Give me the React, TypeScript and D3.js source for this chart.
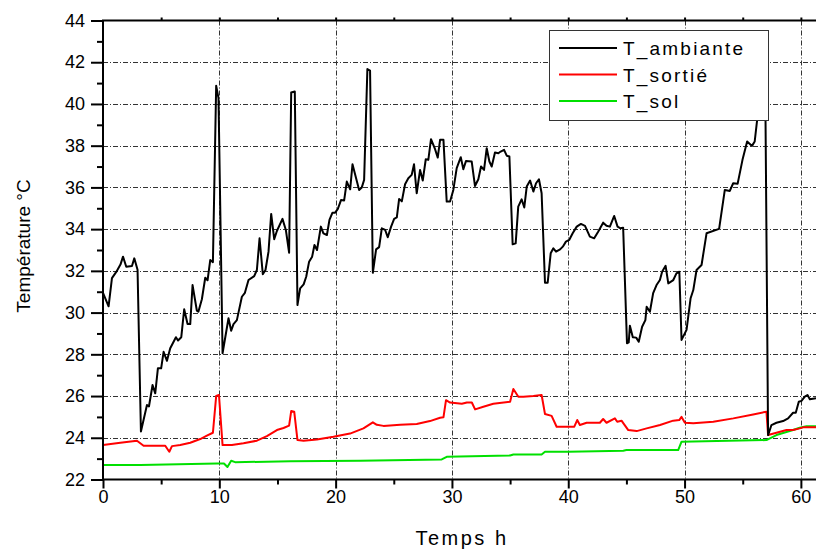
import React, { useEffect, useRef } from "react";
import * as d3 from "d3";

// T_ambiante
const ambHours = [
  0.0, 0.48, 0.77, 1.14, 1.5, 1.72, 2.0, 2.49, 2.69, 2.97, 3.26, 3.78, 3.95, 4.26, 4.49, 4.72, 5.0, 5.21, 5.5, 5.78,
  6.27, 6.45, 6.73, 6.98, 7.27, 7.5, 7.7, 8.07, 8.2, 8.5, 8.79, 8.99, 9.22, 9.45, 9.73, 9.93, 10.28, 10.79, 11.02,
  11.22, 11.51, 11.94, 12.2, 12.51, 13.0, 13.23, 13.46, 13.74, 13.97, 14.23, 14.46, 14.72, 14.95, 15.43, 15.72, 16.0,
  16.18, 16.49, 16.72, 16.95, 17.25, 17.47, 17.72, 17.98, 18.18, 18.4, 18.73, 18.95, 19.25, 19.47, 19.73, 19.96,
  20.19, 20.47, 20.73, 20.96, 21.25, 21.45, 22.02, 22.25, 22.45, 22.73, 22.96, 23.2, 23.48, 23.74, 23.97, 24.26,
  24.48, 24.77, 25.03, 25.26, 25.46, 25.69, 25.97, 26.25, 26.54, 26.74, 26.97, 27.26, 27.49, 27.75, 27.97, 28.2,
  28.55, 28.78, 28.98, 29.27, 29.55, 29.84, 30.12, 30.41, 30.76, 30.98, 31.21, 31.7, 31.98, 32.27, 32.5, 32.76,
  32.99, 33.22, 33.42, 33.7, 33.99, 34.19, 34.48, 34.71, 34.94, 35.22, 35.48, 35.7, 35.99, 36.22, 36.43, 36.72,
  37.0, 37.23, 37.48, 37.71, 38.0, 38.23, 38.49, 38.72, 38.95, 39.3, 39.53, 39.8, 40.08, 40.38, 40.73, 41.09,
  41.44, 41.86, 42.23, 42.57, 43.0, 43.29, 43.58, 43.95, 44.24, 44.49, 44.72, 45.05, 45.2, 45.3, 45.55, 45.84,
  46.06, 46.35, 46.63, 46.74, 47.02, 47.3, 47.59, 47.88, 48.07, 48.37, 48.6, 49.03, 49.3, 49.55, 49.74, 50.17,
  50.52, 50.75, 51.03, 51.46, 51.89, 52.97, 53.46, 53.89, 54.18, 54.56, 54.98, 55.38, 55.8, 56.03, 56.24, 56.5,
  56.95, 57.18, 57.47, 57.9, 58.47, 58.9, 59.33, 59.56, 59.82, 60.05, 60.34, 60.57, 60.77, 61.3,
];
const ambTemps = [
  30.95, 30.3, 31.65, 31.95, 32.3, 32.68, 32.2, 32.23, 32.6, 32.05, 24.3, 25.57, 25.5, 26.53, 26.13, 27.33, 27.33,
  28.12, 27.69, 28.29, 28.82, 28.66, 28.82, 30.16, 29.45, 29.45, 31.32, 30.09, 30.04, 30.64, 31.67, 31.55, 32.52,
  32.42, 40.87, 40.28, 28.05, 29.73, 29.13, 29.45, 29.64, 30.76, 30.95, 31.56, 31.75, 32.04, 33.56, 31.84, 32.04,
  32.92, 34.73, 33.52, 33.91, 34.49, 33.96, 32.87, 40.55, 40.6, 30.36, 31.16, 31.35, 31.72, 32.44, 32.68, 33.24,
  33.0, 34.12, 33.8, 33.72, 34.44, 34.79, 34.79, 34.97, 35.4, 35.37, 36.28, 35.91, 37.11, 35.88, 36.0, 36.36,
  41.67, 41.6, 31.91, 33.03, 33.14, 34.04, 33.96, 33.61, 34.12, 34.49, 34.56, 35.45, 35.33, 36.15, 36.44, 36.6,
  37.11, 35.72, 36.84, 36.33, 37.35, 37.32, 38.31, 37.83, 37.43, 38.28, 38.28, 35.32, 35.32, 35.88, 36.92, 37.45,
  36.87, 37.27, 37.24, 36.07, 36.39, 37.0, 36.84, 37.88, 37.24, 37.0, 37.67, 37.64, 37.72, 37.8, 37.52, 37.48,
  33.27, 33.32, 35.08, 35.43, 35.04, 36.04, 36.33, 35.8, 36.2, 36.39, 35.72, 31.43, 31.43, 32.84, 33.08, 32.92,
  33.03, 33.16, 33.4, 33.48, 33.8, 34.12, 34.25, 34.16, 33.64, 33.56, 33.88, 34.31, 34.16, 34.12, 34.63, 34.12,
  34.04, 34.07, 28.53, 28.57, 29.37, 28.82, 28.8, 28.6, 29.32, 29.64, 30.28, 30.04, 30.93, 31.32, 31.56, 31.96,
  32.24, 31.4, 31.56, 31.88, 31.96, 28.69, 29.17, 30.69, 31.08, 32.04, 32.28, 33.8, 34.01, 35.88, 35.83, 36.2,
  36.17, 37.32, 38.2, 37.99, 38.2, 39.24, 40.3, 40.0, 24.13, 24.61, 24.72, 24.8, 24.93, 25.2, 25.2, 25.73, 25.77,
  25.97, 26.05, 25.85, 25.9,
];

// T_sortié
const sortHours = [
  0, 1.49, 2.92, 3.49, 5.35, 5.7, 5.93, 6.64, 7.5, 8.36, 8.93, 9.45, 9.73, 9.97, 10.28, 11.08, 12.08, 13.23, 14.09,
  14.95, 15.52, 16.0, 16.18, 16.44, 16.72, 17.24, 18.39, 19.81, 21.24, 22.39, 23.2, 23.54, 24.11, 25.55, 26.97,
  28.11, 28.98, 29.27, 29.49, 29.84, 30.85, 31.28, 31.71, 31.99, 32.7, 33.56, 35.0, 35.28, 35.71, 36.14, 37.0,
  37.71, 38.0, 38.57, 39.0, 40.52, 40.77, 41.0, 41.58, 42.72, 43.0, 43.29, 44.01, 44.21, 44.58, 44.73, 45.16,
  45.88, 46.74, 47.89, 49.02, 49.54, 49.74, 50.03, 50.75, 52.47, 54.19, 55.9, 57.04, 57.18, 57.9, 58.76, 59.33,
  59.9, 60.19, 61.3,
];
const sortTemps = [
  23.65, 23.76, 23.86, 23.62, 23.62, 23.33, 23.6, 23.65, 23.76, 23.94, 24.1, 24.24, 26.0, 26.05, 23.65, 23.65,
  23.74, 23.86, 24.08, 24.37, 24.47, 24.58, 25.28, 25.25, 23.89, 23.86, 23.92, 24.05, 24.2, 24.45, 24.74, 24.62,
  24.57, 24.62, 24.66, 24.8, 24.96, 24.98, 25.8, 25.69, 25.63, 25.69, 25.69, 25.36, 25.49, 25.63, 25.73, 26.34,
  25.97, 25.97, 26.0, 26.05, 25.14, 25.05, 24.53, 24.53, 24.85, 24.61, 24.72, 24.72, 24.9, 24.72, 24.93, 24.77,
  24.82, 24.7, 24.37, 24.32, 24.45, 24.61, 24.82, 24.85, 25.0, 24.72, 24.7, 24.77, 24.93, 25.12, 25.25, 24.13,
  24.24, 24.37, 24.37, 24.45, 24.5, 24.5,
];

// T_sol
const solHours = [
  0, 3.2, 6.5, 9.8, 10.4, 10.7, 11.02, 11.36, 16.1, 22.1, 29.12, 29.55, 35.0, 35.28, 37.71, 38.0, 40.0, 44.73,
  45.0, 49.45, 49.74, 57.04, 57.9, 59.33, 59.9, 60.48, 61.3,
];
const solTemps = [
  22.69, 22.69, 22.73, 22.77, 22.77, 22.6, 22.9, 22.83, 22.87, 22.9, 22.96, 23.09, 23.15, 23.2, 23.2, 23.33, 23.33,
  23.38, 23.41, 23.41, 23.81, 23.89, 24.13, 24.37, 24.48, 24.55, 24.55,
];

const seriesNames = ["T_ambiante", "T_sortié", "T_sol"];
const seriesColors = ["#000000", "#ff0000", "#00e000"];
const xTicks = [0, 10, 20, 30, 40, 50, 60];
const yTicks = [22, 24, 26, 28, 30, 32, 34, 36, 38, 40, 42, 44];

const FONT = "'Liberation Sans', Arial, sans-serif";

const App = () => {
  const ref = useRef<SVGSVGElement>(null);

  useEffect(() => {
    drawChart();
  }, []);

  const drawChart = () => {
    const svg = d3.select(ref.current);
    svg.selectAll("*").remove();

    const left = 103;
    const right = 816;
    const top = 20.5;
    const bottom = 479.5;

    const x = d3.scaleLinear().domain([0, 61.3]).range([left, right]);
    const y = d3.scaleLinear().domain([22, 44]).range([bottom, top]);

    svg
      .append("defs")
      .append("clipPath")
      .attr("id", "plot")
      .append("rect")
      .attr("x", left)
      .attr("y", top)
      .attr("width", right - left)
      .attr("height", bottom - top);

    // grid
    const grid = svg.append("g").attr("stroke", "#333").attr("stroke-width", 1).attr("stroke-dasharray", "5,2,1,2");
    grid
      .selectAll("line.gx")
      .data(xTicks.filter((t) => t > 0))
      .enter()
      .append("line")
      .attr("x1", (d) => Math.round(x(d)) + 0.5)
      .attr("x2", (d) => Math.round(x(d)) + 0.5)
      .attr("y1", top)
      .attr("y2", bottom);
    grid
      .selectAll("line.gy")
      .data(yTicks.filter((t) => t > 22 && t < 44))
      .enter()
      .append("line")
      .attr("x1", left)
      .attr("x2", right)
      .attr("y1", (d) => Math.round(y(d)) + 0.5)
      .attr("y2", (d) => Math.round(y(d)) + 0.5);

    // series
    const series = [
      { h: ambHours, v: ambTemps },
      { h: sortHours, v: sortTemps },
      { h: solHours, v: solTemps },
    ];
    const plot = svg.append("g").attr("clip-path", "url(#plot)");
    [2, 1, 0].forEach((k) => {
      const s = series[k];
      const pts: [number, number][] = s.h.map((h, i) => [h, s.v[i]]);
      const path = d3
        .line<[number, number]>()
        .x((d) => x(d[0]))
        .y((d) => y(d[1]))(pts);
      plot
        .append("path")
        .attr("d", path)
        .attr("fill", "none")
        .attr("stroke", seriesColors[k])
        .attr("stroke-width", 2)
        .attr("stroke-linejoin", "round");
    });

    // axes
    const styleAxis = (g) => {
      g.select(".domain").remove();
      g.selectAll("line").attr("stroke", "#000").attr("stroke-width", 2);
      g.selectAll("text").attr("font-family", FONT).attr("font-size", 18).attr("fill", "#000");
    };

    svg
      .append("g")
      .attr("transform", `translate(${left},0)`)
      .call(d3.axisLeft(y).tickValues(yTicks).tickSize(12).tickPadding(6))
      .call(styleAxis);
    svg
      .append("g")
      .attr("transform", `translate(${left},0)`)
      .call(d3.axisLeft(y).tickValues(d3.range(23, 44, 2)).tickSize(6).tickFormat(() => ""))
      .call(styleAxis);
    svg
      .append("g")
      .attr("transform", `translate(0,${bottom})`)
      .call(d3.axisBottom(x).tickValues(xTicks).tickSize(9).tickPadding(2))
      .call(styleAxis);
    svg
      .append("g")
      .attr("transform", `translate(0,${bottom})`)
      .call(d3.axisBottom(x).tickValues(d3.range(5, 61, 10)).tickSize(5).tickFormat(() => ""))
      .call(styleAxis);
    svg
      .append("g")
      .attr("transform", `translate(0,${top})`)
      .call(d3.axisTop(x).tickValues(d3.range(5, 61, 5)).tickSize(3).tickFormat(() => ""))
      .call(styleAxis);

    // frame
    svg
      .append("path")
      .attr("d", `M${right},${top}H${left}V${bottom}H${right}`)
      .attr("fill", "none")
      .attr("stroke", "#000")
      .attr("stroke-width", 2);

    // axis titles
    svg
      .append("text")
      .attr("x", 462)
      .attr("y", 545)
      .attr("text-anchor", "middle")
      .attr("font-family", FONT)
      .attr("font-size", 20)
      .attr("letter-spacing", 2.5)
      .text("Temps h");
    svg
      .append("text")
      .attr("transform", "translate(30,246) rotate(-90)")
      .attr("text-anchor", "middle")
      .attr("font-family", FONT)
      .attr("font-size", 19)
      .text("Température °C");

    // legend
    const lg = svg.append("g");
    lg.append("rect")
      .attr("x", 549.5)
      .attr("y", 30.5)
      .attr("width", 219)
      .attr("height", 90)
      .attr("fill", "#fff")
      .attr("stroke", "#333")
      .attr("stroke-width", 1);
    const rows = lg
      .selectAll("g.row")
      .data(seriesNames)
      .enter()
      .append("g")
      .attr("transform", (d, i) => `translate(0,${48 + i * 26.5})`);
    rows
      .append("line")
      .attr("x1", 559)
      .attr("x2", 617)
      .attr("stroke", (d, i) => seriesColors[i])
      .attr("stroke-width", 2);
    rows
      .append("text")
      .attr("x", 623)
      .attr("y", 7)
      .attr("font-family", FONT)
      .attr("font-size", 19)
      .attr("letter-spacing", 2.2)
      .text((d) => d);
  };

  return (
    <div>
      <svg ref={ref} width="816" height="550" style={{ position: "absolute", left: 0, top: 0, background: "#fff" }}></svg>
    </div>
  );
};

export default App;
